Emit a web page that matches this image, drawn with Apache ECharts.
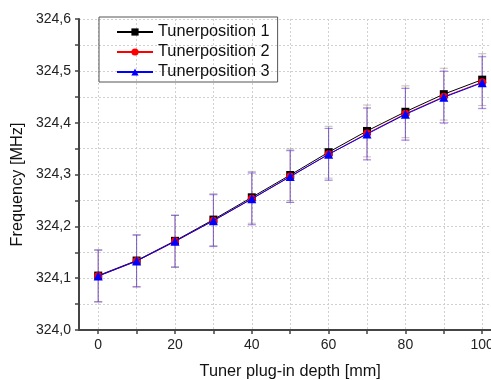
<!DOCTYPE html>
<html><head><meta charset="utf-8">
<script src="https://cdn.jsdelivr.net/npm/echarts@6/dist/echarts.min.js"></script>
<style>html,body{margin:0;padding:0;background:#fff}#c{width:491px;height:380px}</style>
</head><body><div id="c"></div>
<script>
const depths = [0, 10, 20, 30, 40, 50, 60, 70, 80, 90, 100];
const tp1 = [324.105, 324.134, 324.172, 324.213, 324.256, 324.299, 324.343, 324.384, 324.421, 324.455, 324.483];
const tp2 = [324.104, 324.133, 324.171, 324.211, 324.253, 324.296, 324.339, 324.379, 324.417, 324.450, 324.478];
const tp3 = [324.104, 324.133, 324.171, 324.211, 324.253, 324.296, 324.339, 324.378, 324.416, 324.449, 324.477];
const err1 = [0.05, 0.05, 0.05, 0.05, 0.05, 0.05, 0.05, 0.05, 0.05, 0.05, 0.05];
const err2 = [0.05, 0.05, 0.05, 0.05, 0.05, 0.05, 0.05, 0.05, 0.05, 0.05, 0.05];
const err3 = [0.05, 0.05, 0.05, 0.05, 0.05, 0.05, 0.05, 0.05, 0.05, 0.05, 0.05];
const names = ['Tunerposition 1', 'Tunerposition 2', 'Tunerposition 3'];
const xTicks = [0, 10, 20, 30, 40, 50, 60, 70, 80, 90, 100];
const xLabels = [0, 20, 40, 60, 80, 100];

const font = 'Liberation Sans, Arial, sans-serif';
function pts(v) { return depths.map((d, i) => [d, v[i]]); }
function errData(v, e) { return depths.map((d, i) => [d, v[i] - e[i], v[i] + e[i]]); }
function errSeries(v, e, color, op, z) {
  return {
    type: 'custom', z: z, silent: true,
    data: errData(v, e),
    encode: { x: 0, y: [1, 2] },
    renderItem: function (params, api) {
      const x = api.value(0);
      const lo = api.coord([x, api.value(1)]);
      const hi = api.coord([x, api.value(2)]);
      const w = 4;
      const st = { stroke: color, lineWidth: 1, opacity: op };
      return { type: 'group', children: [
        { type: 'line', shape: { x1: lo[0], y1: lo[1], x2: hi[0], y2: hi[1] }, style: st },
        { type: 'line', shape: { x1: lo[0] - w, y1: lo[1], x2: lo[0] + w, y2: lo[1] }, style: st },
        { type: 'line', shape: { x1: hi[0] - w, y1: hi[1], x2: hi[0] + w, y2: hi[1] }, style: st }
      ]};
    }
  };
}
const chart = echarts.init(document.getElementById('c'), null, { renderer: 'canvas' });
chart.setOption({
  backgroundColor: '#fff',
  animation: false,
  textStyle: { fontFamily: font },
  grid: { left: 79, top: 19, bottom: 50, width: 422.4, containLabel: false, outerBoundsMode: 'none' },
  legend: {
    orient: 'vertical', left: 99, top: 17,
    data: names,
    itemWidth: 36, itemHeight: 9, itemGap: 4,
    padding: [7, 8, 2, 17],
    borderColor: '#555', borderWidth: 1, borderRadius: 0,
    textStyle: { fontSize: 16.3, lineHeight: 16, color: '#111', fontFamily: font }
  },
  xAxis: {
    type: 'value', min: -5, max: 105,
    name: 'Tuner plug-in depth [mm]', nameLocation: 'middle', nameGap: 34,
    nameTextStyle: { fontSize: 16.3, color: '#111', fontFamily: font },
    axisLine: { show: true, onZero: false, lineStyle: { color: '#444', width: 2 } },
    axisTick: { show: true, length: 4, customValues: xTicks, lineStyle: { color: '#444', width: 1.5 } },
    axisLabel: { customValues: xLabels, fontSize: 14, color: '#222', margin: 8, fontFamily: font },
    splitLine: { show: true, lineStyle: { color: '#d0d0d0', type: [2, 2], width: 1 } }
  },
  yAxis: {
    type: 'value', min: 324.0, max: 324.6, interval: 0.05,
    name: 'Frequency [MHz]', nameLocation: 'middle', nameGap: 52,
    nameTextStyle: { fontSize: 16.3, color: '#111', fontFamily: font, padding: [0, 20, 0, 0] },
    axisLine: { show: true, onZero: false, lineStyle: { color: '#444', width: 2 } },
    axisTick: { show: true, length: 4, lineStyle: { color: '#444', width: 1.5 } },
    axisLabel: {
      fontSize: 14, color: '#222', margin: 8, fontFamily: font,
      formatter: function (v) {
        return Math.round(v * 1000) % 100 === 0 ? v.toFixed(1).replace('.', ',') : '';
      }
    },
    splitLine: { show: true, lineStyle: { color: '#d0d0d0', type: [2, 2], width: 1 } }
  },
  series: [
    errSeries(tp1, err1, '#000000', 0.25, 1),
    errSeries(tp2, err2, '#ff0000', 0.25, 1),
    errSeries(tp3, err3, '#4444ff', 0.55, 1),
    { name: names[0], type: 'line', data: pts(tp1), z: 3, symbol: 'rect', symbolSize: 8,
      itemStyle: { color: '#000' }, lineStyle: { color: '#000', width: 1 } },
    { name: names[1], type: 'line', data: pts(tp2), z: 4, symbol: 'circle', symbolSize: 8,
      itemStyle: { color: '#ff0000' }, lineStyle: { color: '#ff0000', width: 1 } },
    { name: names[2], type: 'line', data: pts(tp3), z: 5, symbol: 'triangle', symbolSize: 9,
      itemStyle: { color: '#0000ff' }, lineStyle: { color: '#0000ff', width: 1 } }
  ]
});
</script></body></html>
